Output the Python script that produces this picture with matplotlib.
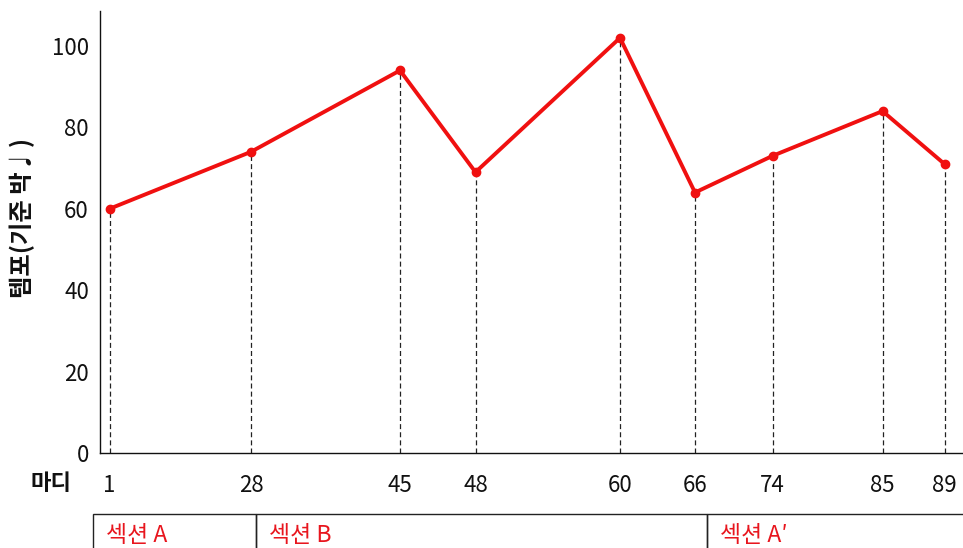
import matplotlib
matplotlib.use("Agg")
import matplotlib.pyplot as plt
import matplotlib.transforms as mtransforms
from matplotlib.patches import Rectangle

plt.rcParams['font.family'] = ['Noto Sans CJK KR', 'DejaVu Sans']

# Timeline position (s) of each marked bar, its bar number and tempo
time_s = [1.9, 30.2, 60.0, 75.1, 104.0, 119.0, 134.5, 156.5, 168.9]
bars = ["1", "28", "45", "48", "60", "66", "74", "85", "89"]
tempo = [60, 74, 94, 69, 102, 64, 73, 84, 71]

# Formal sections: label and start time on the same timeline
section_labels = ["섹션 A", "섹션 B", "섹션 A′"]
section_starts = [-1.5, 31.1, 121.3]
section_end = 175.0

W, H = 963, 548
fig = plt.figure(figsize=(W / 100, H / 100), dpi=100)
ax_left, ax_right, ax_top, ax_bottom = 100, 963, 11, 453
ax = fig.add_axes([ax_left / W, (H - ax_bottom) / H,
                   (ax_right - ax_left) / W, (ax_bottom - ax_top) / H])

red = "#F01010"
fs = 16

# dashed drop lines from each point to the axis
ax.vlines(time_s, 0, tempo, colors="#222222", linestyles=(0, (4, 2.5)),
          linewidth=0.9, zorder=1)
ax.plot(time_s, tempo, color=red, linewidth=2.8, marker="o",
        markersize=6, zorder=3)

ax.set_xlim(0, 172.6)
ax.set_ylim(0, 108.6)
ax.set_yticks([0, 20, 40, 60, 80, 100])
ax.set_xticks(time_s)
ax.set_xticklabels(bars)
ax.tick_params(axis="both", length=0, labelsize=fs, colors="#111111")
ax.tick_params(axis="x", pad=15)
ax.tick_params(axis="y", pad=8)
for side in ("top", "right"):
    ax.spines[side].set_visible(False)
for side in ("left", "bottom"):
    ax.spines[side].set_color("#111111")
    ax.spines[side].set_linewidth(1.0)

# row labels
fig.text(72 / W, 1 - 484 / H, "마디", ha="right", va="center",
         fontsize=fs, fontweight="bold", color="#111111")
fig.text(22 / W, 1 - 218 / H, "템포(기준 박♩)", ha="center", va="center",
         rotation=90, fontsize=17.5, fontweight="bold", color="#111111")

# section boxes under the bar numbers
trans = mtransforms.blended_transform_factory(ax.transData, ax.transAxes)
box_top = (ax_bottom - 514) / (ax_bottom - ax_top)
box_bottom = box_top - 0.2
edges = section_starts + [section_end]
for i, label in enumerate(section_labels):
    x0, x1 = edges[i], edges[i + 1]
    ax.add_patch(Rectangle((x0, box_bottom), x1 - x0, box_top - box_bottom,
                           transform=trans, fill=False, edgecolor="#222222",
                           linewidth=1.0, clip_on=False))
    ax.text(x0 + 2.6, box_top - 0.048, label, transform=trans, ha="left",
            va="center", fontsize=16.5, color="#E8161E", clip_on=False)

fig.savefig("out.png", dpi=100)
